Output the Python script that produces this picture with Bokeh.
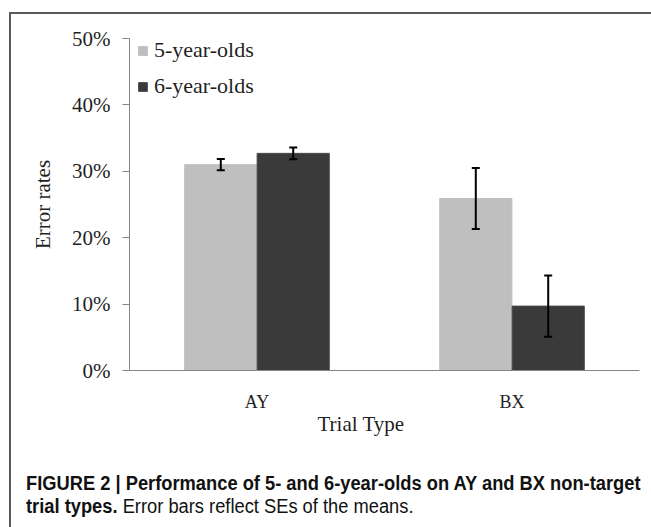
from bokeh.plotting import figure
from bokeh.layouts import column
from bokeh.models import (FactorRange, Range1d, LinearAxis, CategoricalAxis, FixedTicker,
                          NumeralTickFormatter, ColumnDataSource, Whisker, TeeHead, Legend,
                          LegendItem, Title, Div)
from bokeh.transform import dodge
from bokeh.embed import file_html
from bokeh.resources import INLINE

# ---- data ----
trials = ["AY", "BX"]
five_year = [0.310, 0.259]
six_year = [0.327, 0.097]
five_se = [0.0085, 0.046]
six_se = [0.0087, 0.046]
y_ticks = [0.0, 0.1, 0.2, 0.3, 0.4, 0.5]
series_names = ["5-year-olds", "6-year-olds"]
caption_bold_1 = "FIGURE 2 | Performance of 5- and 6-year-olds on AY and BX non-target"
caption_bold_2 = "trial types."
caption_rest = "Error bars reflect SEs of the means."

LIGHT = "#BFBFBF"
DARK = "#3A3A3A"
AXIS = "#868686"
TXT = "#1f1f1f"
SERIF = "Liberation Serif"

src = ColumnDataSource(dict(
    trial=trials,
    five=five_year,
    six=six_year,
    five_lo=[v - e for v, e in zip(five_year, five_se)],
    five_hi=[v + e for v, e in zip(five_year, five_se)],
    six_lo=[v - e for v, e in zip(six_year, six_se)],
    six_hi=[v + e for v, e in zip(six_year, six_se)],
))

p = figure(x_range=FactorRange(factors=trials, range_padding=0),
           y_range=Range1d(0, 0.5),
           width=636, height=426,
           min_border_left=118, min_border_right=8,
           min_border_top=24, min_border_bottom=70,
           x_axis_location=None, y_axis_location=None,
           output_backend="svg", toolbar_location=None, tools="")
p.grid.visible = False
p.outline_line_color = None
p.background_fill_color = "white"
p.border_fill_color = "white"

# y axis
yax = LinearAxis(ticker=FixedTicker(ticks=y_ticks),
                 formatter=NumeralTickFormatter(format="0%"),
                 axis_label="Error rates",
                 axis_label_text_font=SERIF, axis_label_text_font_size="21px",
                 axis_label_text_font_style="normal", axis_label_text_color=TXT,
                 axis_label_standoff=14,
                 major_label_text_font=SERIF, major_label_text_font_size="21px",
                 major_label_text_color=TXT, major_label_standoff=12,
                 major_tick_in=0, major_tick_out=7,
                 minor_tick_line_color=None,
                 axis_line_color=AXIS, major_tick_line_color=AXIS)
p.add_layout(yax, "left")

cat_ax = CategoricalAxis(axis_line_color=AXIS, major_tick_line_color=None,
                         minor_tick_line_color=None,
                         major_label_text_font=SERIF, major_label_text_font_size="18px",
                         major_label_text_color=TXT, major_label_standoff=15)
p.add_layout(cat_ax, "below")

p.add_layout(Title(text="Trial Type", align="left", offset=188, standoff=-10,
                   text_font=SERIF, text_font_size="21px", text_font_style="normal",
                   text_color=TXT), "below")

# bars
off = 0.142
bw = 0.283
r1 = p.vbar(x=dodge("trial", -off, range=p.x_range), top="five", width=bw, source=src,
            fill_color=LIGHT, line_color=LIGHT)
r2 = p.vbar(x=dodge("trial", off, range=p.x_range), top="six", width=bw, source=src,
            fill_color=DARK, line_color="#4a4a4a")

for base, lo, hi in [(dodge("trial", -off, range=p.x_range), "five_lo", "five_hi"),
                     (dodge("trial", off, range=p.x_range), "six_lo", "six_hi")]:
    w = Whisker(base=base, lower=lo, upper=hi, source=src, level="annotation",
                line_color="black", line_width=2,
                upper_head=TeeHead(size=8, line_width=2, line_color="black"),
                lower_head=TeeHead(size=8, line_width=2, line_color="black"))
    p.add_layout(w)

legend = Legend(items=[LegendItem(label=series_names[0], renderers=[r1]),
                       LegendItem(label=series_names[1], renderers=[r2])],
                location=(8, 271), orientation="vertical",
                padding=0, margin=0, spacing=10,
                glyph_width=11, glyph_height=11, label_height=26,
                label_standoff=6,
                label_text_font=SERIF, label_text_font_size="22px",
                label_text_color=TXT,
                border_line_color=None, background_fill_alpha=0)
p.add_layout(legend)

caption = Div(
    text=('<div style="padding:27px 0 0 10px; font-family:\'Liberation Sans\',Arial,sans-serif; '
          'font-size:20px; line-height:23px; white-space:nowrap; color:#111111; '
          'transform:scaleX(0.915); transform-origin:10px 0;">'
          f'<b>{caption_bold_1}</b><br><b>{caption_bold_2}</b> {caption_rest}</div>'),
    width=636, height=80)

layout = column(p, caption, margin=(12, 0, 0, 9),
                styles={"border-top": "2px solid #5a5a5a",
                        "border-left": "2px solid #5a5a5a"})

open("out.html", "w").write(file_html(layout, INLINE))
